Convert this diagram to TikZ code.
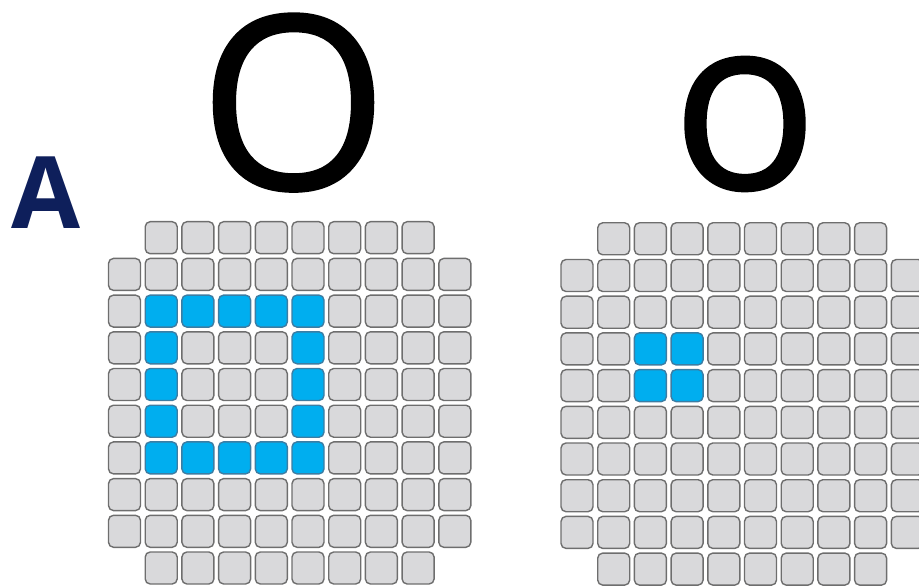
\documentclass[tikz,border=0pt]{standalone}
\usepackage{fontspec}
\setmainfont{Open Sans}
\newfontfamily\heavyO{Open Sans}[FakeBold=0.8]
\definecolor{cellgrey}{HTML}{D9D9DB}
\definecolor{celledge}{HTML}{6E6E6E}
\definecolor{cellblue}{HTML}{00AEEF}
\definecolor{blueedge}{HTML}{3C7DA3}
\definecolor{navy}{HTML}{0E1F5B}
\begin{document}
\begin{tikzpicture}[x=1pt,y=-1pt,
  cell/.style={rectangle, rounded corners=5pt, minimum width=32pt, minimum height=32pt, inner sep=0pt, line width=1.4pt},
  greycell/.style={cell, fill=cellgrey, draw=celledge},
  bluecell/.style={cell, fill=cellblue, draw=blueedge},
  glyph/.style={inner sep=0pt, anchor=base}]
\useasboundingbox (0,0) rectangle (919,588);
\clip (0,0) rectangle (919,588);
% left grid
\foreach \r in {0,...,9}{
  \pgfmathtruncatemacro\edgerow{(\r==0)||(\r==9)}
  \ifnum\edgerow=1 \def\cols{1,...,8}\else\def\cols{0,...,9}\fi
  \foreach \c in \cols {
    \pgfmathtruncatemacro\isblue{(((\r==2)||(\r==6))&&((\c>=1)&&(\c<=5)))||(((\r>=3)&&(\r<=5))&&((\c==1)||(\c==5)))}
    \ifnum\isblue=1 \def\sty{bluecell}\else\def\sty{greycell}\fi
    \node[\sty] (L\r x\c) at (124.5+36.7*\c, 237.7+36.7*\r) {};
  }
}
% right grid
\foreach \r in {0,...,9}{
  \pgfmathtruncatemacro\edgerow{(\r==0)||(\r==9)}
  \ifnum\edgerow=1 \def\cols{1,...,8}\else\def\cols{0,...,9}\fi
  \foreach \c in \cols {
    \pgfmathtruncatemacro\isblue{((\r>=3)&&(\r<=4))&&((\c>=2)&&(\c<=3))}
    \ifnum\isblue=1 \def\sty{bluecell}\else\def\sty{greycell}\fi
    \node[\sty] (R\r x\c) at (577+36.7*\c, 238.8+36.7*\r) {};
  }
}
\node[glyph, font=\heavyO\fontsize{243}{243}\selectfont] (bigO) at (293.5,189.5) {O};
\node[glyph, font=\heavyO\fontsize{243}{243}\selectfont] (smallo) at (745,189) {o};
\node[glyph, font=\bfseries\fontsize{100}{100}\selectfont, text=navy] (letterA) at (45.5,229) {A};
\end{tikzpicture}
\end{document}
